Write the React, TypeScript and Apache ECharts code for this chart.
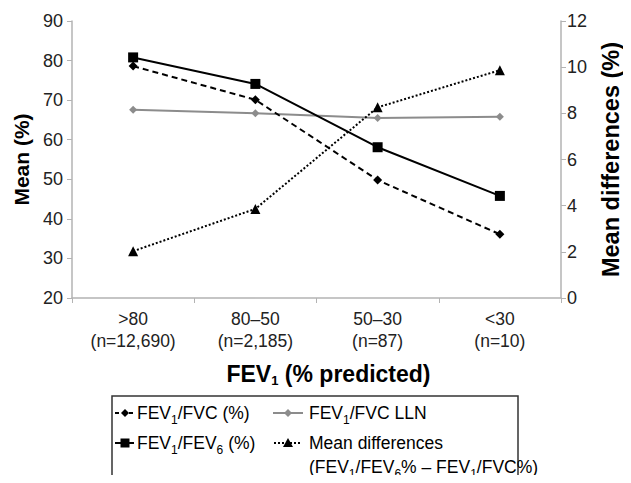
import React, { useEffect, useRef } from "react";
import * as echarts from "echarts";

const categories = [">80\n(n=12,690)", "80–50\n(n=2,185)", "50–30\n(n=87)", "<30\n(n=10)"];
const fev1Fvc = [78.6, 70.1, 49.8, 36.1];
const fev1FvcLln = [67.6, 66.7, 65.5, 65.8];
const fev1Fev6 = [80.8, 74.1, 58.1, 45.8];
const meanDiff = [2.03, 3.86, 8.26, 9.87];
const leftTicks = { min: 20, max: 90, interval: 10 };
const rightTicks = { min: 0, max: 12, interval: 2 };

const FONT = "Liberation Sans, Arial, sans-serif";
const subRich = {
  n: { fontSize: 17.5, fontFamily: FONT, color: "#111" },
  s: { fontSize: 12, fontFamily: FONT, color: "#111", padding: [13, 0, 0, 0] },
};

export default function App() {
  const ref = useRef<HTMLDivElement>(null);
  useEffect(() => {
    if (!ref.current) return;
    const chart = echarts.init(ref.current, null, { renderer: "svg" });
    const axisGray = "#b3b3b3";
    const ly = [413, 443, 467];
    const legendText = (x: number, y: number, text: string) => ({
      type: "text",
      x,
      y,
      style: { text, rich: subRich, verticalAlign: "middle", align: "left", fontSize: 17.5, fontFamily: FONT },
    });
    const option: any = {
      animation: false,
      grid: { left: 72, right: 52, top: 21, bottom: 185 },
      xAxis: {
        type: "category",
        data: categories,
        boundaryGap: true,
        axisLine: { lineStyle: { color: axisGray, width: 1.5 } },
        axisTick: { show: true, interval: 0, length: 5, lineStyle: { color: axisGray } },
        axisLabel: { color: "#222", fontSize: 17.5, fontFamily: FONT, lineHeight: 22, margin: 10, interval: 0 },
        name: "{b|FEV}{bs|1}{b| (% predicted)}",
        nameLocation: "middle",
        nameGap: 62,
        nameTextStyle: {
          padding: [0, 0, 0, 24],
          rich: {
            b: { fontSize: 23, fontWeight: "bold", fontFamily: FONT, color: "#000" },
            bs: { fontSize: 13, fontWeight: "bold", fontFamily: FONT, color: "#000", padding: [14, 0, 0, 0] },
          },
        },
      },
      yAxis: [
        {
          type: "value",
          min: leftTicks.min,
          max: leftTicks.max,
          interval: leftTicks.interval,
          position: "left",
          splitLine: { show: false },
          axisLine: { show: true, lineStyle: { color: axisGray, width: 1.5 } },
          axisTick: { show: true, length: 5, lineStyle: { color: axisGray } },
          axisLabel: { color: "#222", fontSize: 18, fontFamily: FONT, margin: 9 },
          name: "Mean (%)",
          nameLocation: "middle",
          nameGap: 40,
          nameRotate: 90,
          nameTextStyle: { fontSize: 21, fontWeight: "bold", fontFamily: FONT, color: "#000" },
        },
        {
          type: "value",
          min: rightTicks.min,
          max: rightTicks.max,
          interval: rightTicks.interval,
          position: "right",
          splitLine: { show: false },
          axisLine: { show: true, lineStyle: { color: axisGray, width: 1.5 } },
          axisTick: { show: true, length: 5, lineStyle: { color: axisGray } },
          axisLabel: { color: "#222", fontSize: 18, fontFamily: FONT, margin: 6 },
          name: "Mean differences (%)",
          nameLocation: "middle",
          nameGap: 38,
          nameRotate: 90,
          nameTextStyle: { fontSize: 23.5, fontWeight: "bold", fontFamily: FONT, color: "#000" },
        },
      ],
      series: [
        {
          name: "FEV1/FVC LLN",
          type: "line",
          data: fev1FvcLln,
          symbol: "diamond",
          symbolSize: 8,
          itemStyle: { color: "#8c8c8c" },
          lineStyle: { color: "#8c8c8c", width: 2 },
        },
        {
          name: "FEV1/FVC (%)",
          type: "line",
          data: fev1Fvc,
          symbol: "diamond",
          symbolSize: 9,
          itemStyle: { color: "#000" },
          lineStyle: { color: "#000", width: 2, type: [6, 4] },
        },
        {
          name: "FEV1/FEV6 (%)",
          type: "line",
          data: fev1Fev6,
          symbol: "rect",
          symbolSize: 10,
          itemStyle: { color: "#000" },
          lineStyle: { color: "#000", width: 2 },
        },
        {
          name: "Mean differences",
          type: "line",
          yAxisIndex: 1,
          data: meanDiff,
          symbol: "triangle",
          symbolSize: 10,
          itemStyle: { color: "#000" },
          lineStyle: { color: "#000", width: 2, type: [2, 2] },
        },
      ],
      graphic: [
        { type: "polyline", shape: { points: [[112, 483], [112, 396], [518, 396], [518, 483]] }, style: { stroke: "#333", lineWidth: 1.5, fill: null } },
        { type: "line", shape: { x1: 115, y1: ly[0], x2: 134, y2: ly[0] }, style: { stroke: "#000", lineWidth: 2, lineDash: [4, 3] } },
        { type: "polygon", shape: { points: [[125, ly[0] - 4], [129, ly[0]], [125, ly[0] + 4], [121, ly[0]]] }, style: { fill: "#000" } },
        legendText(137, ly[0], "{n|FEV}{s|1}{n|/FVC (%)}"),
        { type: "line", shape: { x1: 273, y1: ly[0], x2: 303, y2: ly[0] }, style: { stroke: "#8c8c8c", lineWidth: 2 } },
        { type: "polygon", shape: { points: [[288, ly[0] - 4], [292, ly[0]], [288, ly[0] + 4], [284, ly[0]]] }, style: { fill: "#8c8c8c" } },
        legendText(309, ly[0], "{n|FEV}{s|1}{n|/FVC LLN}"),
        { type: "line", shape: { x1: 115, y1: ly[1], x2: 134, y2: ly[1] }, style: { stroke: "#000", lineWidth: 2 } },
        { type: "rect", shape: { x: 120.5, y: ly[1] - 4.5, width: 9, height: 9 }, style: { fill: "#000" } },
        legendText(137, ly[1], "{n|FEV}{s|1}{n|/FEV}{s|6}{n| (%)}"),
        { type: "line", shape: { x1: 274, y1: ly[1], x2: 301, y2: ly[1] }, style: { stroke: "#000", lineWidth: 2, lineDash: [2, 2] } },
        { type: "polygon", shape: { points: [[288, ly[1] - 5], [293, ly[1] + 4], [283, ly[1] + 4]] }, style: { fill: "#000" } },
        legendText(309, ly[1], "{n|Mean differences}"),
        legendText(309, ly[2], "{n|(FEV}{s|1}{n|/FEV}{s|6}{n|% – FEV}{s|1}{n|/FVC%)}"),
      ],
    };
    chart.setOption(option);
    return () => chart.dispose();
  }, []);
  return <div ref={ref} style={{ width: 631, height: 483, margin: -8 }} />;
}
